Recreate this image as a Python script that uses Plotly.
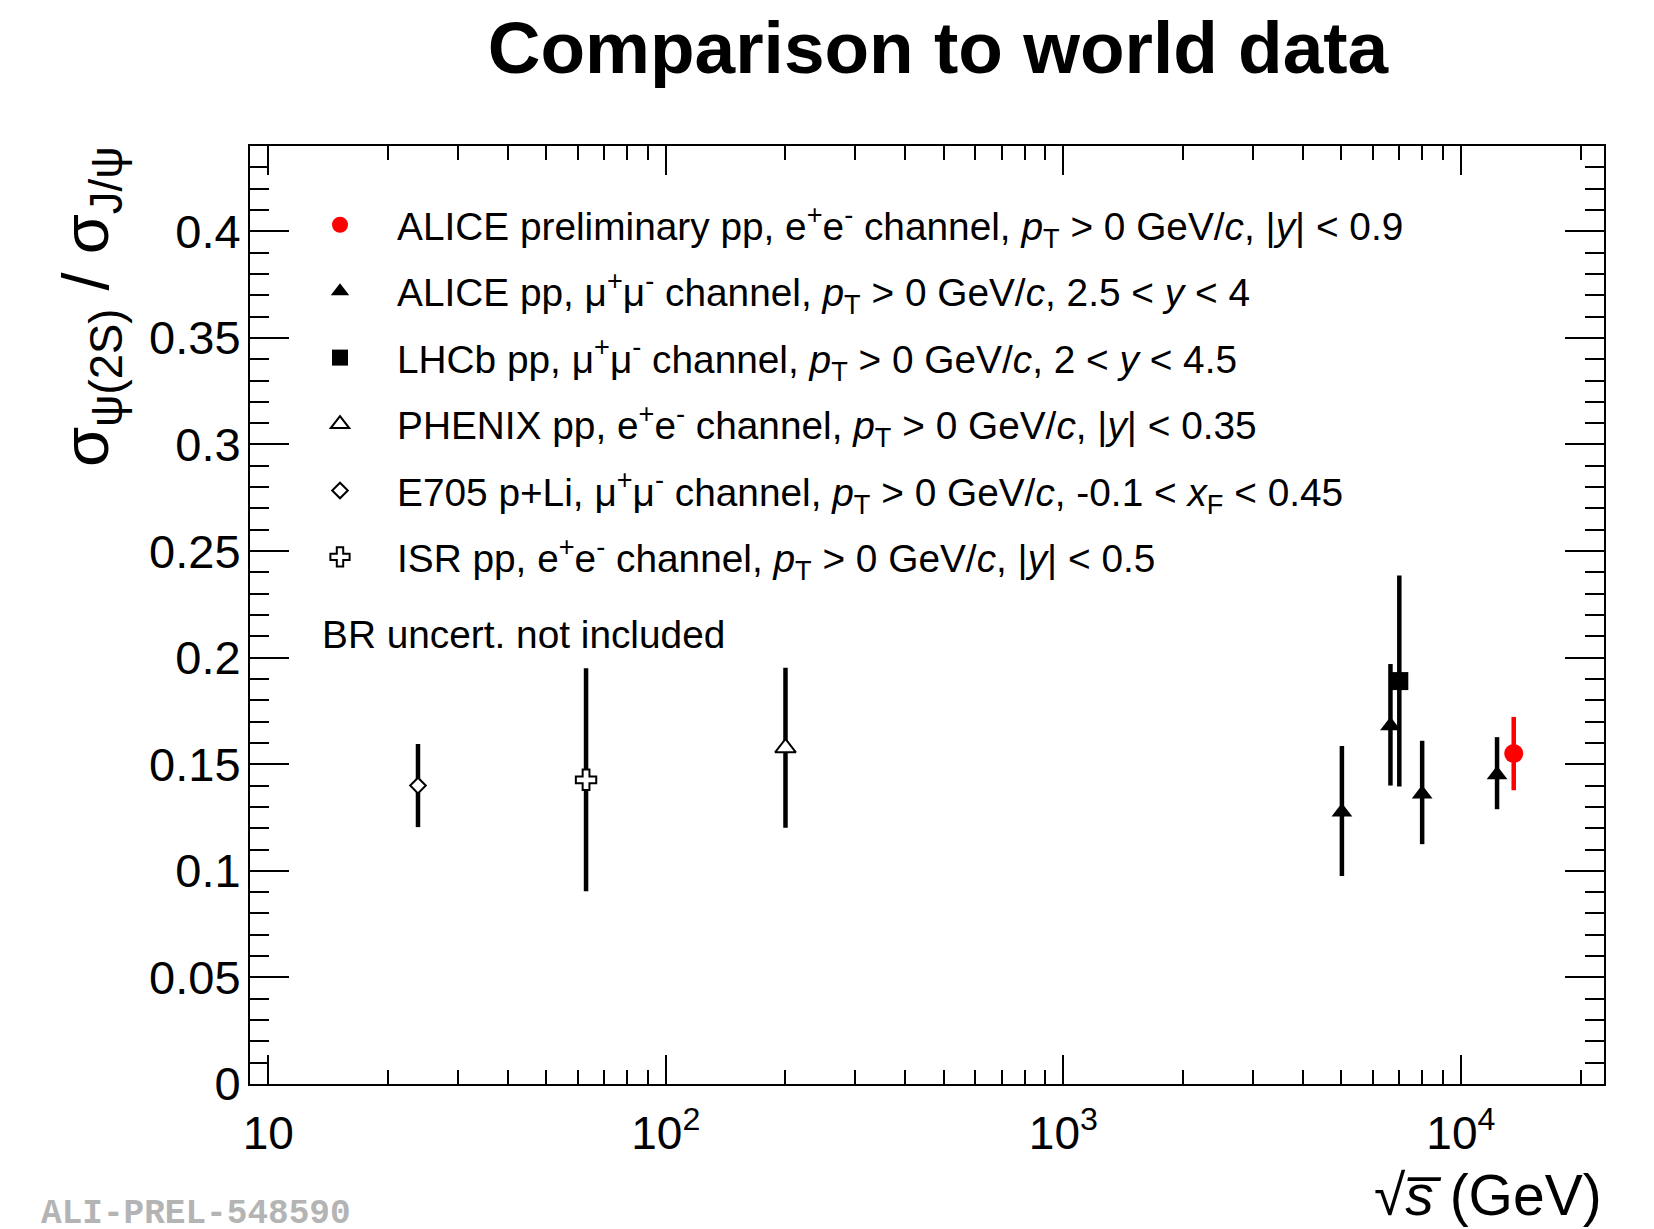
import plotly.graph_objects as go

# ---------------- data ----------------
alice_ee_x = [13580]
alice_ee_y = [0.155]
alice_ee_err = [0.0172]

alice_mm_x = [5020, 6650, 7990, 12330]
alice_mm_y = [0.1276, 0.168, 0.136, 0.1451]
alice_mm_eplus = [0.031, 0.029, 0.025, 0.0176]
alice_mm_eminus = [0.030, 0.028, 0.0235, 0.0162]

lhcb_x = [7000]
lhcb_y = [0.189]
lhcb_err = [0.0495]

phenix_x = [200]
phenix_y = [0.1577]
phenix_err = [0.0375]

e705_x = [23.8]
e705_y = [0.14]
e705_err = [0.0195]

isr_x = [63]
isr_y = [0.1427]
isr_err = [0.0523]

ytick_vals = [0, 0.05, 0.1, 0.15, 0.2, 0.25, 0.3, 0.35, 0.4]
ytick_text = ["0", "0.05", "0.1", "0.15", "0.2", "0.25", "0.3", "0.35", "0.4"]
xtick_vals = [10, 100, 1000, 10000]
xtick_text = ["10", "10<sup>2</sup>", "10<sup>3</sup>", "10<sup>4</sup>"]
xminor_vals = [m * d for d in (10, 100, 1000) for m in range(2, 10)] + [20000]

names = [
    "ALICE preliminary pp, e<sup>+</sup>e<sup>-</sup> channel, <i>p</i><sub>T</sub> &gt; 0 GeV/<i>c</i>, |<i>y</i>| &lt; 0.9",
    "ALICE pp, μ<sup>+</sup>μ<sup>-</sup> channel, <i>p</i><sub>T</sub> &gt; 0 GeV/<i>c</i>, 2.5 &lt; <i>y</i> &lt; 4",
    "LHCb pp, μ<sup>+</sup>μ<sup>-</sup> channel, <i>p</i><sub>T</sub> &gt; 0 GeV/<i>c</i>, 2 &lt; <i>y</i> &lt; 4.5",
    "PHENIX pp, e<sup>+</sup>e<sup>-</sup> channel, <i>p</i><sub>T</sub> &gt; 0 GeV/<i>c</i>, |<i>y</i>| &lt; 0.35",
    "E705 p+Li, μ<sup>+</sup>μ<sup>-</sup> channel, <i>p</i><sub>T</sub> &gt; 0 GeV/<i>c</i>, -0.1 &lt; <i>x</i><sub>F</sub> &lt; 0.45",
    "ISR pp, e<sup>+</sup>e<sup>-</sup> channel, <i>p</i><sub>T</sub> &gt; 0 GeV/<i>c</i>, |<i>y</i>| &lt; 0.5",
]

FONT = "Liberation Sans, Arial, Helvetica, sans-serif"
EW = 4.5

fig = go.Figure()


def err(arr, color="black", minus=None):
    d = dict(type="data", array=arr, visible=True, color=color, thickness=EW, width=0)
    if minus is not None:
        d["symmetric"] = False
        d["arrayminus"] = minus
    return d


fig.add_trace(go.Scatter(x=alice_ee_x, y=alice_ee_y, mode="markers", name=names[0],
                         legendgroup="g0",
                         marker=dict(symbol="circle", size=19, color="#ff0000", line=dict(width=0)),
                         error_y=err(alice_ee_err, "#ff0000")))
fig.add_trace(go.Scatter(x=alice_mm_x, y=alice_mm_y, mode="markers", name=names[1],
                         legendgroup="g1",
                         marker=dict(symbol="triangle-up", size=18, color="black", line=dict(width=0)),
                         error_y=err(alice_mm_eplus, minus=alice_mm_eminus)))
fig.add_trace(go.Scatter(x=lhcb_x, y=lhcb_y, mode="markers", name=names[2],
                         legendgroup="g2",
                         marker=dict(symbol="square", size=18, color="black", line=dict(width=0)),
                         error_y=err(lhcb_err)))
fig.add_trace(go.Scatter(x=phenix_x, y=phenix_y, mode="markers", name=names[3],
                         legendgroup="g3",
                         marker=dict(symbol="triangle-up", size=18, color="white",
                                     line=dict(width=2, color="black")),
                         error_y=err(phenix_err)))
fig.add_trace(go.Scatter(x=e705_x, y=e705_y, mode="markers", name=names[4],
                         legendgroup="g4",
                         marker=dict(symbol="diamond", size=12, color="white",
                                     line=dict(width=2, color="black")),
                         error_y=err(e705_err)))
fig.add_trace(go.Scatter(x=isr_x, y=isr_y, mode="markers", name=names[5],
                         legendgroup="g5",
                         marker=dict(symbol="cross", size=17, color="white",
                                     line=dict(width=2, color="black")),
                         error_y=err(isr_err)))

# page geometry (the html body adds an 8px offset)
OFF = 8
PAGE_W, PAGE_H = 1654, 1229
PL, PR, PT, PB = 250, 1604, 146, 1084   # plot area in page pixels
W, H = PAGE_W - OFF, PAGE_H - OFF
L, T = PL - OFF, PT - OFF
R, B = PAGE_W - PR, PAGE_H - PB


def px(x):
    return (x - PL) / (PR - PL)


def py(y):
    return (PB - y) / (PB - PT)


fig.update_layout(
    width=W, height=H,
    margin=dict(l=L, r=R, t=T, b=B, autoexpand=False),
    paper_bgcolor="white", plot_bgcolor="white",
    font=dict(family=FONT, color="black"),
    title=dict(text="<b>Comparison to world data</b>", x=(938 - OFF) / W, y=1 - (47 - OFF) / H,
               xanchor="center", yanchor="middle", xref="container", yref="container",
               font=dict(size=73, family=FONT)),
    showlegend=True,
    legend=dict(x=px(283), y=py(193), xanchor="left", yanchor="top",
                bgcolor="rgba(0,0,0,0)", borderwidth=0,
                font=dict(size=38.8, family=FONT), tracegroupgap=13,
                itemwidth=104, traceorder="grouped"),
)

fig.update_xaxes(
    type="log", range=[0.954, 4.36],
    tickmode="array", tickvals=xtick_vals, ticktext=xtick_text,
    ticks="inside", ticklen=29, tickwidth=2, tickcolor="black",
    minor=dict(tickmode="array", tickvals=xminor_vals, ticks="inside", ticklen=14,
               tickwidth=2, tickcolor="black", showgrid=False),
    showline=True, linecolor="black", linewidth=2, mirror="allticks",
    showgrid=False, zeroline=False,
    tickfont=dict(size=46, family=FONT), ticklabelstandoff=8,
)
fig.update_yaxes(
    range=[0, 0.44],
    tickmode="array", tickvals=ytick_vals, ticktext=ytick_text,
    ticks="inside", ticklen=39, tickwidth=2, tickcolor="black",
    minor=dict(tickmode="linear", tick0=0, dtick=0.01, ticks="inside", ticklen=19,
               tickwidth=2, tickcolor="black", showgrid=False),
    showline=True, linecolor="black", linewidth=2, mirror="allticks",
    showgrid=False, zeroline=False,
    tickfont=dict(size=47, family=FONT), ticklabelstandoff=-2,
)

fig.add_annotation(text="σ<sub>ψ(2S)</sub> / σ<sub>J/ψ</sub>", textangle=-90,
                   xref="paper", yref="paper", x=px(90), y=py(307),
                   xanchor="center", yanchor="middle", showarrow=False,
                   font=dict(size=65, family=FONT))
fig.add_annotation(text="√<i>s\u0305</i> (GeV)",
                   xref="paper", yref="paper", x=px(1604), y=py(1195),
                   xanchor="right", yanchor="middle", showarrow=False,
                   font=dict(size=57, family=FONT))
fig.add_annotation(text="BR uncert. not included",
                   xref="paper", yref="paper", x=px(320), y=py(634),
                   xanchor="left", yanchor="middle", showarrow=False,
                   font=dict(size=38.8, family=FONT))
fig.add_annotation(text="<b>ALI-PREL-548590</b>",
                   xref="paper", yref="paper", x=px(40), y=py(1213),
                   xanchor="left", yanchor="middle", showarrow=False, borderpad=0,
                   font=dict(size=34.4, family="Liberation Mono, Courier New, monospace",
                             color="#b4b4b4"))

fig.write_html("out.html")
